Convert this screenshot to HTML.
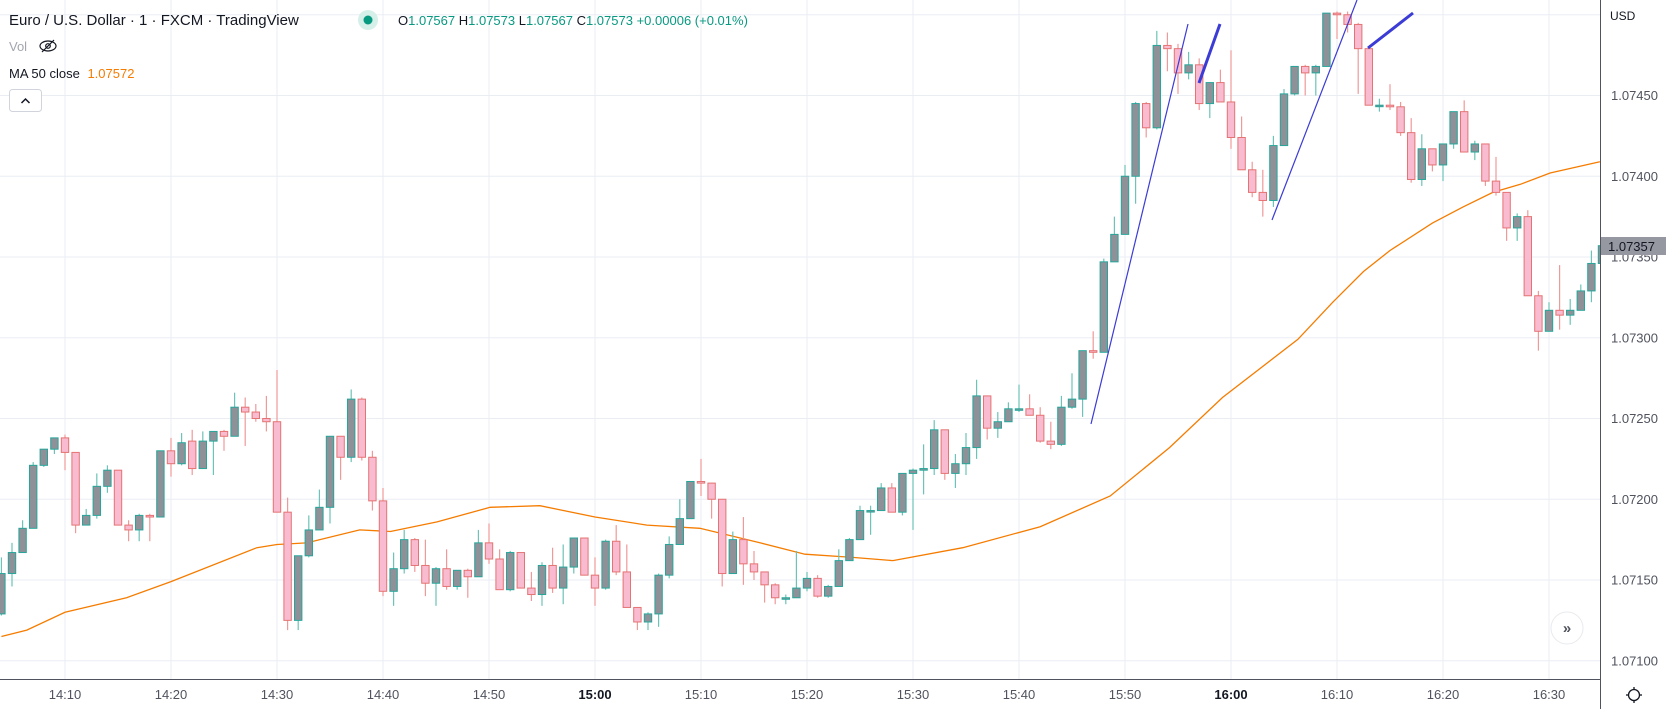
<!DOCTYPE html>
<html><head><meta charset="utf-8"><style>
html,body{margin:0;padding:0;background:#fff;}
svg{display:block;font-family:"Liberation Sans",sans-serif;}
</style></head><body>
<svg id="chart" width="1672" height="709" viewBox="0 0 1672 709" xmlns="http://www.w3.org/2000/svg">
<defs><clipPath id="plotClip"><rect x="0" y="0" width="1600" height="679"/></clipPath></defs>
<g id="grid"></g>
<g id="ma" clip-path="url(#plotClip)"></g>
<g id="candles" clip-path="url(#plotClip)"></g>
<g clip-path="url(#plotClip)">
<line x1="1091" y1="424" x2="1188" y2="24" stroke="#3b3bd6" stroke-width="1.2"/>
<line x1="1199" y1="83" x2="1220" y2="24" stroke="#3b3bd6" stroke-width="3"/>
<line x1="1272" y1="220" x2="1357" y2="0" stroke="#3b3bd6" stroke-width="1.2"/>
<line x1="1368" y1="48" x2="1413" y2="13" stroke="#3b3bd6" stroke-width="3"/>
</g>
<rect x="1600" y="0" width="72" height="709" fill="#fff"/>
<rect x="0" y="679" width="1672" height="30" fill="#fff"/>
<line x1="1600.5" y1="0" x2="1600.5" y2="709" stroke="#50535e" stroke-width="1"/>
<line x1="0" y1="679.5" x2="1600" y2="679.5" stroke="#50535e" stroke-width="1"/>
<g id="yticks"></g>
<g id="xticks"></g>
<text x="1610" y="20" font-size="12" fill="#131722">USD</text>
<g>
<rect x="1601" y="237" width="65" height="18" fill="#9598a1"/>
<text x="1608" y="251" font-size="13" fill="#131722">1.07357</text>
</g>
<g transform="translate(1634,695)">
<circle r="5.5" fill="none" stroke="#131722" stroke-width="1.3"/>
<g stroke="#131722" stroke-width="1.3"><line x1="0" y1="-8" x2="0" y2="-5.5"/><line x1="0" y1="5.5" x2="0" y2="8"/><line x1="-8" y1="0" x2="-5.5" y2="0"/><line x1="5.5" y1="0" x2="8" y2="0"/></g>
</g>
<g>
<circle cx="1567" cy="628" r="16" fill="#fff" stroke="#e8eaee"/>
<text x="1567" y="633" font-size="15" font-weight="bold" text-anchor="middle" fill="#50535e">»</text>
</g>
<g>
<text x="9" y="25" font-size="15" fill="#131722">Euro / U.S. Dollar · 1 · FXCM · TradingView</text>
<circle cx="368" cy="20" r="10" fill="#d5efe9"/>
<circle cx="368" cy="20" r="4.5" fill="#089981"/>
<text x="398" y="25" font-size="13" fill="#131722">O<tspan fill="#089981">1.07567</tspan> H<tspan fill="#089981">1.07573</tspan> L<tspan fill="#089981">1.07567</tspan> C<tspan fill="#089981">1.07573</tspan> <tspan fill="#089981">+0.00006 (+0.01%)</tspan></text>
<text x="9" y="51" font-size="13" fill="#a3a6af">Vol</text>
<g transform="translate(48,46)" stroke="#131722" fill="none" stroke-width="1.2">
<ellipse rx="8" ry="5"/><circle r="2.3"/><line x1="-6" y1="6" x2="6" y2="-6"/></g>
<text x="9" y="78" font-size="13" fill="#131722">MA 50 close <tspan fill="#f57c00" dx="4">1.07572</tspan></text>
<rect x="9.5" y="89.5" width="32" height="22" rx="3" fill="#fff" stroke="#d1d4dc"/>
<path d="M21.5 103 L25.5 99 L29.5 103" fill="none" stroke="#131722" stroke-width="1.5"/>
</g>
</svg>
<script>
const NS = "http://www.w3.org/2000/svg";
// values in points (0.00001) above basePrice
const basePrice = 1.07;
const pointSize = 0.00001;
const startMinute = -6; // minutes relative to 14:10
const opens  = [129,154,167,182,221,231,238,229,184,190,208,218,184,181,190,189,230,222,236,219,236,242,239,257,254,250,248,192,125,165,181,195,239,226,262,226,199,143,157,175,159,148,157,146,156,152,173,163,144,167,145,141,159,145,158,176,153,145,174,155,133,124,129,153,172,188,211,210,200,154,175,160,155,147,139,139,145,151,140,146,162,175,193,193,207,192,216,218,219,243,216,222,232,264,244,248,256,256,252,236,234,257,262,292,291,347,364,400,445,430,481,479,464,469,445,458,446,424,404,390,385,419,451,468,464,468,501,500,494,479,444,444,443,427,398,417,407,420,440,415,420,397,390,368,375,326,304,317,314,317,329,346];
const highs  = [164,173,187,223,231,238,240,229,194,216,221,218,187,191,191,230,238,241,243,242,242,243,266,263,259,264,280,201,165,190,206,239,239,268,263,230,207,167,181,176,175,158,169,156,157,181,185,169,168,167,155,161,170,172,176,176,164,175,184,172,133,130,154,177,200,211,225,210,200,180,189,168,155,148,141,168,155,153,147,169,176,196,196,210,210,216,219,234,249,243,228,241,274,264,254,260,271,265,257,248,264,278,292,304,349,375,407,446,446,490,489,482,477,473,458,466,478,437,409,404,425,454,468,469,469,501,502,502,495,479,448,457,446,436,426,417,420,440,447,422,420,412,390,377,379,329,322,345,324,333,354,358];
const lows   = [128,146,167,182,220,228,218,179,184,188,204,184,174,174,174,189,214,221,215,219,215,230,239,233,248,242,192,119,119,164,181,185,212,223,224,193,140,134,154,155,140,134,144,144,139,152,160,144,143,145,137,134,142,135,154,153,134,144,153,133,119,119,121,151,172,188,202,188,146,154,147,150,136,135,135,139,143,139,139,146,162,175,178,193,192,190,181,203,215,212,207,215,225,237,238,248,254,252,235,231,233,256,251,287,291,347,364,383,424,429,465,451,460,441,436,446,417,404,387,375,381,419,450,450,450,468,485,489,451,444,440,441,425,396,394,403,397,417,415,410,394,388,360,360,326,292,304,305,308,317,322,345];
const closes = [154,167,182,221,231,238,229,184,190,208,218,184,181,190,189,230,222,235,219,236,242,239,257,254,250,248,192,125,165,181,195,239,226,262,226,199,143,157,175,159,148,157,146,156,152,173,163,144,167,145,141,159,145,158,176,153,145,174,155,133,124,129,153,172,188,211,210,200,154,175,160,155,147,139,139,145,151,140,146,162,175,193,193,207,192,216,218,219,243,216,222,232,264,244,248,256,256,252,236,234,257,262,292,291,347,364,400,445,430,481,479,464,469,445,458,446,424,404,390,385,419,451,468,464,468,501,500,494,479,444,444,443,427,398,417,407,420,440,415,420,397,390,368,375,326,304,317,314,317,329,346,357];
// MA 50 samples (minute offset, points)
const maMinutes = [-6,-3.6,0,5.8,10,18.1,20,22.8,27.8,30.7,35.1,40.1,44.8,50,54.9,59.9,65.6,69.8,74.3,78.1,84.7,92,98.6,104.2,109.2,116.3,119.6,122.5,125,129,131.9,134.7,137.3,140.1,144.8];
const maValues  = [115,119,130,139,149,170,172,173,181,180,186,195,196,189,184,182,173,166,164,162,170,183,202,232,263,299,322,341,354,371,381,390,395,402,409];
const yTickPrices = [1.075,1.0745,1.074,1.0735,1.073,1.0725,1.072,1.0715,1.071];
const xTickLabels = ["14:10","14:20","14:30","14:40","14:50","15:00","15:10","15:20","15:30","15:40","15:50","16:00","16:10","16:20","16:30"];
const xTickBold = ["15:00","16:00"];

function yOfPrice(p){ return 257 + (1.0735 - p) * 161500; }
function yOfPts(v){ return yOfPrice(basePrice + v * pointSize); }
function xOfMin(m){ return 65 + m * 10.6; }
function mk(tag, attrs, parent){ const e=document.createElementNS(NS,tag); for(const k in attrs) e.setAttribute(k,attrs[k]); parent.appendChild(e); return e; }

const grid=document.getElementById('grid');
yTickPrices.forEach(p=>{
  const l=mk('line',{x1:0,x2:1600,y1:yOfPrice(p),y2:yOfPrice(p),stroke:'#eaeef3','stroke-width':1},grid);
  
  
});
xTickLabels.forEach((t,i)=>{
  const x=xOfMin(i*10);
  const l=mk('line',{x1:x,x2:x,y1:0,y2:679,stroke:'#eaeef3','stroke-width':1},grid);
  
  
});
const yt=document.getElementById('yticks');
yTickPrices.forEach(p=>{
  if(p>=1.075) return;
  const t=mk('text',{x:1611,y:yOfPrice(p)+4.5,'font-size':13,fill:'#50535e'},yt);
  t.textContent=p.toFixed(5);
  
  
});
const xt=document.getElementById('xticks');
xTickLabels.forEach((s,i)=>{
  const bold=xTickBold.includes(s);
  const t=mk('text',{x:xOfMin(i*10),y:699,'font-size':13,fill:bold?'#131722':'#50535e','font-weight':bold?'bold':'normal','text-anchor':'middle'},xt);
  t.textContent=s;
  
  
});

const ma=document.getElementById('ma');
const pts=maMinutes.map((m,i)=>xOfMin(m).toFixed(1)+','+yOfPts(maValues[i]).toFixed(1)).join(' ');
const pl=mk('polyline',{points:pts,fill:'none',stroke:'#f57c00','stroke-width':1.3},ma);



const cg=document.getElementById('candles');
opens.forEach((o,i)=>{
  const c=closes[i], h=highs[i], lo=lows[i];
  const up=c>=o;
  const x=xOfMin(startMinute+i);
  const g=mk('g',{},cg);
  
  
  const wick=up?'#6cc3b8':'#ef9a9a';
  mk('line',{x1:x,x2:x,y1:yOfPts(h),y2:yOfPts(lo),stroke:wick,'stroke-width':1.2},g);
  const top=yOfPts(Math.max(o,c)), bot=yOfPts(Math.min(o,c));
  const hgt=Math.max(1.5,bot-top);
  mk('rect',{x:x-3.7,y:top,width:7.4,height:hgt,fill:up?'#8f9199':'#f8bbd0',stroke:up?'#26a69a':'#e57373','stroke-width':1},g);
});
</script>
</body></html>
